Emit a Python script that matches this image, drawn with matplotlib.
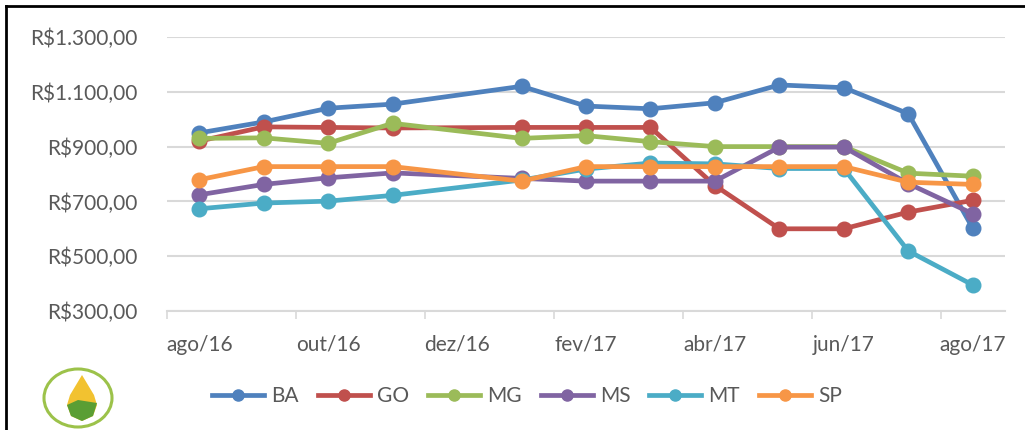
import matplotlib.pyplot as plt
from matplotlib.patches import Ellipse, Polygon
from matplotlib.lines import Line2D

# month index: 0 = ago/16 ... 12 = ago/17 (no dez/16 point)
months = [0, 1, 2, 3, 5, 6, 7, 8, 9, 10, 11, 12]
tick_pos = [0, 2, 4, 6, 8, 10, 12]
tick_labels = ['ago/16', 'out/16', 'dez/16', 'fev/17', 'abr/17', 'jun/17', 'ago/17']
y_ticks = [300, 500, 700, 900, 1100, 1300]
y_labels = ['R$300,00', 'R$500,00', 'R$700,00', 'R$900,00', 'R$1.100,00', 'R$1.300,00']

states = ['BA', 'GO', 'MG', 'MS', 'MT', 'SP']
ba = [950, 990, 1040, 1055, 1120, 1048, 1038, 1060, 1125, 1115, 1020, 602]
go = [920, 972, 970, 968, 970, 970, 970, 758, 600, 600, 661, 704]
mg = [930, 932, 912, 985, 930, 940, 918, 900, 900, 900, 803, 792]
ms = [724, 762, 786, 804, 784, 774, 774, 774, 898, 898, 765, 655]
mt = [673, 694, 701, 722, 778, 818, 840, 837, 820, 820, 519, 395]
sp = [779, 827, 827, 827, 774, 827, 827, 827, 827, 827, 770, 762]
series = [ba, go, mg, ms, mt, sp]
colors = ['#4F81BD', '#C0504D', '#9BBB59', '#8064A2', '#4BACC6', '#F79646']

plt.rcParams['font.family'] = ['Lato', 'DejaVu Sans']
txt = '#595959'

fig = plt.figure(figsize=(10.25, 4.3), dpi=100)
ax = fig.add_axes([167 / 1025, 1 - 311 / 430, 838 / 1025, 274 / 430])

for name, vals, c in zip(states, series, colors):
    ax.plot(months, vals, color=c, lw=3.4, marker='o', ms=10.5,
            solid_capstyle='round', label=name, zorder=3)

ax.set_xlim(-0.5, 12.5)
ax.set_ylim(300, 1300)
ax.set_yticks(y_ticks)
ax.set_yticklabels(y_labels)
ax.set_xticks(tick_pos)
ax.set_xticklabels(tick_labels)
ax.set_xticks([-0.5 + 2 * i for i in range(7)], minor=True)
ax.tick_params(axis='x', which='major', length=0, pad=17, labelsize=15, labelcolor=txt)
ax.tick_params(axis='x', which='minor', length=6, color='#D9D9D9', width=1.2)
ax.tick_params(axis='y', length=0, pad=21, labelsize=15, labelcolor=txt)
ax.grid(axis='y', color='#D9D9D9', lw=1.5, zorder=0)
for s in ['top', 'right', 'left']:
    ax.spines[s].set_visible(False)
ax.spines['bottom'].set_color('#D9D9D9')
ax.spines['bottom'].set_linewidth(1.5)

handles = [Line2D([0], [0], color=c, lw=3.4, marker='o', ms=8) for c in colors]
fig.legend(handles, states, loc='center', bbox_to_anchor=(527 / 1025, 1 - 396 / 430),
           ncol=6, frameon=False, fontsize=15, handlelength=2.5, handletextpad=0.35,
           columnspacing=0.9, labelcolor=txt)

# frame lines of the surrounding box
fig.add_artist(Line2D([5.5 / 1025, 5.5 / 1025], [0, 1 - 6 / 430], transform=fig.transFigure,
                      color='black', lw=2))
fig.add_artist(Line2D([5.5 / 1025, 1], [1 - 6 / 430, 1 - 6 / 430], transform=fig.transFigure,
                      color='black', lw=2))

# small logo
lx, ly = 78, 398
fig.add_artist(Ellipse((lx / 1025, 1 - ly / 430), 68 / 1025, 58 / 430, transform=fig.transFigure,
                       fill=False, ec='#9CC24A', lw=2.2))
dx = 82
drop = [(dx, 375), (dx - 12, 395), (dx - 15, 405), (dx - 11, 416), (dx, 421),
        (dx + 11, 416), (dx + 15, 405), (dx + 12, 395)]
fig.add_artist(Polygon([(x / 1025, 1 - y / 430) for x, y in drop], closed=True,
                       transform=fig.transFigure, fc='#F2C230', ec='none'))
ground = [(dx - 15, 405), (dx - 4, 400), (dx + 15, 403), (dx + 11, 416), (dx, 421), (dx - 11, 416)]
fig.add_artist(Polygon([(x / 1025, 1 - y / 430) for x, y in ground], closed=True,
                       transform=fig.transFigure, fc='#5A9E34', ec='none'))

fig.savefig('out.png', dpi=100)
